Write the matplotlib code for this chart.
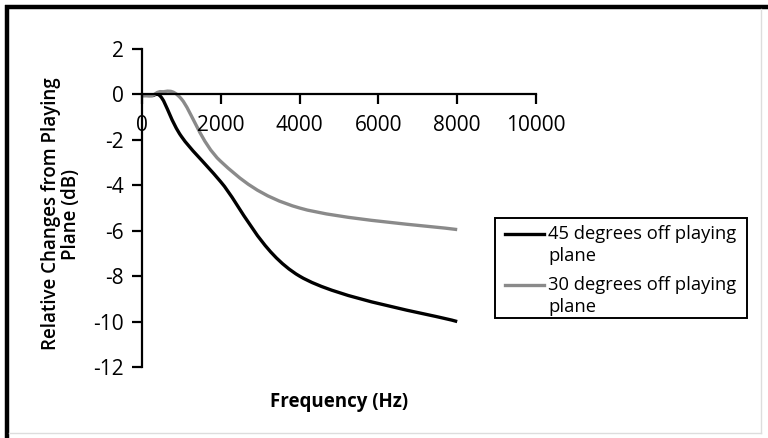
import matplotlib
matplotlib.use("Agg")
import matplotlib.pyplot as plt
from matplotlib.path import Path
from matplotlib.patches import PathPatch, Rectangle
from matplotlib.lines import Line2D
import numpy as np

plt.rcParams['font.family'] = ['Open Sans', 'DejaVu Sans']

# Data
freq_hz = [0, 250, 500, 1000, 2000, 4000, 8000]
deg45 = [-0.05, -0.05, -0.15, -1.85, -3.85, -8.0, -10.0]
deg30 = [-0.05, -0.05, 0.12, -0.2, -2.95, -5.0, -5.95]
series_labels = ["45 degrees off playing\nplane", "30 degrees off playing\nplane"]
series_colors = ["#000000", "#8a8a8a"]
x_ticks = [0, 2000, 4000, 6000, 8000, 10000]
y_ticks = [-12, -10, -8, -6, -4, -2, 0, 2]
x_label = "Frequency (Hz)"
y_label = "Relative Changes from Playing\nPlane (dB)"

W, H = 768, 438
fig = plt.figure(figsize=(W / 100, H / 100), dpi=100)
fig.patch.set_facecolor("white")


def fx(px):
    return px / W


def fy(py):
    return 1 - py / H


ax = fig.add_axes([fx(142), fy(367), fx(536) - fx(142), fy(49) - fy(367)])
ax.set_xlim(0, 10000)
ax.set_ylim(-12, 2)
ax.patch.set_alpha(0)
for s in ["top", "right"]:
    ax.spines[s].set_visible(False)
ax.spines["bottom"].set_position(("data", 0))
ax.spines["left"].set_linewidth(1.6)
ax.spines["bottom"].set_linewidth(1.6)
ax.set_xticks(x_ticks)
ax.set_yticks(y_ticks)
ax.set_xticklabels([str(v) for v in x_ticks])
ax.set_yticklabels([str(v) for v in y_ticks])
ax.tick_params(axis="x", direction="out", length=7, width=1.6, pad=8, labelsize=15)
ax.tick_params(axis="y", direction="out", length=7, width=1.6, pad=6, labelsize=15)


def smooth_path(xs, ys):
    # Excel-style smoothed line: Catmull-Rom segments as cubic Bezier curves
    pts = np.column_stack([xs, ys]).astype(float)
    n = len(pts)
    verts = [pts[0]]
    codes = [Path.MOVETO]
    for i in range(n - 1):
        p0 = pts[i - 1] if i > 0 else pts[i]
        p1 = pts[i]
        p2 = pts[i + 1]
        p3 = pts[i + 2] if i + 2 < n else pts[i + 1]
        c1 = p1 + (p2 - p0) / 6.0
        c2 = p2 - (p3 - p1) / 6.0
        verts += [c1, c2, p2]
        codes += [Path.CURVE4] * 3
    return Path(verts, codes)


for ys, col in zip([deg45, deg30], series_colors):
    patch = PathPatch(smooth_path(freq_hz, ys), facecolor="none", edgecolor=col,
                      linewidth=2.4, capstyle="butt", joinstyle="round")
    ax.add_patch(patch)

# Axis labels
fig.text(fx(339), fy(402), x_label, ha="center", va="center", fontsize=13.5,
         fontweight="bold")
fig.text(fx(61), fy(214), y_label, ha="center", va="center", rotation=90,
         fontsize=13.5, fontweight="semibold", multialignment="center",
         linespacing=0.95)

# Legend (manual, handle aligned with first text line)
fig.patches.append(Rectangle((fx(495), fy(318)), fx(747) - fx(495), fy(218) - fy(318),
                             transform=fig.transFigure, facecolor="white",
                             edgecolor="black", linewidth=1.4))
leg_y = [234, 285]
for lab, col, yy in zip(series_labels, series_colors, leg_y):
    fig.lines.append(Line2D([fx(505), fx(544)], [fy(yy), fy(yy)],
                            transform=fig.transFigure, color=col, linewidth=2.4))
    fig.text(fx(548), fy(yy - 9), lab, ha="left", va="top", fontsize=13.2,
             linespacing=1.3)

# Frame around the figure
fig.lines.append(Line2D([fx(5), fx(768)], [fy(7), fy(7)], transform=fig.transFigure,
                        color="black", linewidth=3.2, solid_capstyle="butt"))
fig.lines.append(Line2D([fx(7), fx(7)], [fy(5), fy(438)], transform=fig.transFigure,
                        color="black", linewidth=3.2, solid_capstyle="butt"))
fig.lines.append(Line2D([fx(761), fx(761)], [fy(9), fy(433)], transform=fig.transFigure,
                        color="#dddddd", linewidth=1.0))
fig.lines.append(Line2D([fx(9), fx(761)], [fy(433), fy(433)], transform=fig.transFigure,
                        color="#dddddd", linewidth=1.0))

fig.savefig("out.png", dpi=100)
